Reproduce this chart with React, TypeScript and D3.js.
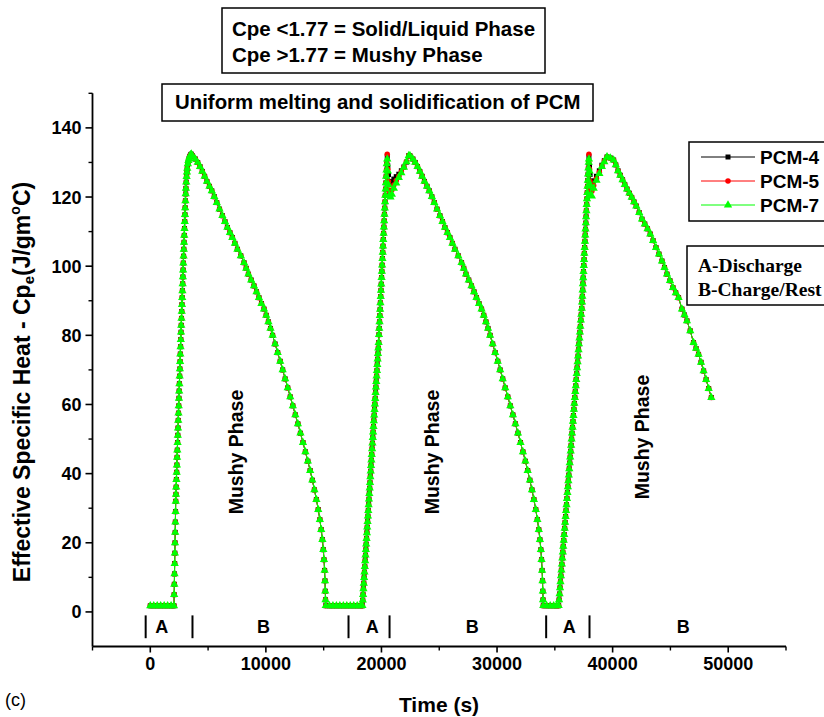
import * as d3 from "d3";

// ---- values (time in s, Cpe in J/gm°C) ----
const flatT1 = [0, 300, 600, 900, 1200, 1500, 1800, 2050];
const flatV1 = [1.77, 1.77, 1.77, 1.77, 1.77, 1.77, 1.77, 1.77];

const riseT1 = [2065, 2080, 2095, 2110, 2125, 2140, 2155, 2170, 2185, 2200, 2220, 2240, 2260, 2280, 2300, 2320, 2340, 2360, 2380, 2400, 2420, 2440, 2460, 2480, 2500, 2520, 2540, 2560, 2580, 2600, 2620, 2640, 2660, 2680, 2700, 2720, 2740, 2760, 2780, 2800, 2820, 2840, 2860, 2880, 2900, 2920, 2940, 2960, 2980, 3000, 3020, 3040, 3060, 3080, 3110, 3140, 3170, 3200, 3250, 3300, 3360, 3420, 3490, 3550];
const riseV1 = [5, 8, 11, 14, 17, 20, 23, 26, 29, 32, 34, 36.1, 38.3, 40.4, 42.5, 44.7, 46.8, 49, 51.1, 53.2, 55.4, 57.5, 59.6, 61.8, 63.9, 66, 68.2, 70.3, 72.4, 74.6, 76.7, 78.8, 80.9, 82.9, 84.9, 86.9, 88.9, 90.9, 92.9, 94.9, 96.9, 98.9, 100.9, 102.9, 104.9, 106.9, 108.9, 110.9, 112.9, 114.9, 116.9, 118.9, 120.9, 122.5, 124.3, 125.9, 127.2, 128.3, 129.6, 130.5, 131.2, 131.8, 132.2, 132.4];

const decayT1 = [3650, 3900, 4100, 4300, 4500, 4700, 4900, 5120, 5320, 5540, 5750, 5990, 6240, 6460, 6670, 6890, 7100, 7320, 7540, 7830, 8110, 8300, 8490, 8730, 8970, 9190, 9400, 9620, 9840, 10030, 10220, 10400, 10580, 10800, 11020, 11240, 11450, 11670, 11890, 12110, 12330, 12550, 12770, 12990, 13210, 13420, 13630, 13830, 14020, 14200, 14370, 14530, 14670, 14790, 14890, 14970, 15030, 15080, 15115, 15140, 15160, 15180];
const decayV1 = [131.9, 131.0, 130.0, 128.8, 127.4, 126.0, 124.5, 123.1, 121.8, 120.1, 118.4, 116.5, 114.6, 112.9, 111.2, 109.7, 108.3, 106.6, 104.9, 103.0, 101.0, 99.4, 97.7, 96.0, 94.3, 92.6, 90.9, 89.2, 87.6, 85.8, 83.9, 82.0, 80.0, 77.5, 75.0, 72.5, 70.0, 67.4, 64.8, 62.2, 59.6, 57.0, 54.4, 51.7, 49.0, 46.3, 43.6, 40.9, 38.1, 35.3, 32.5, 29.6, 26.7, 23.8, 20.9, 18.0, 15.1, 12.0, 9.0, 6.0, 3.5, 1.8];

const flatT2 = [15500, 15800, 16100, 16400, 16700, 17000, 17300, 17600, 17900, 18200];
const flatV2 = [1.77, 1.77, 1.77, 1.77, 1.77, 1.77, 1.77, 1.77, 1.77, 1.77];

const riseT2 = [18350, 18380, 18410, 18440, 18470, 18500, 18530, 18560, 18590, 18620, 18650, 18680, 18710, 18740, 18770, 18800, 18830, 18860, 18890, 18920, 18950, 18980, 19010, 19040, 19070, 19100, 19130, 19160, 19190, 19220, 19250, 19280, 19310, 19340, 19370, 19400, 19430, 19460, 19490, 19520, 19550, 19580, 19610, 19640, 19670, 19700, 19730, 19760, 19785, 19810, 19835, 19860, 19885, 19910, 19935, 19960, 19985, 20010, 20035, 20060, 20085, 20110, 20135, 20160, 20185, 20210, 20235, 20260, 20285, 20310, 20335, 20360, 20385, 20410, 20435, 20460];
const riseV2 = [1.8, 3.4, 5.0, 6.7, 8.3, 9.9, 11.5, 13.1, 14.8, 16.4, 18.0, 19.6, 21.2, 22.9, 24.5, 26.1, 27.7, 29.3, 31.0, 32.6, 34.2, 35.8, 37.4, 39.1, 40.7, 42.3, 43.9, 45.5, 47.2, 48.8, 50.4, 52.0, 53.6, 55.3, 56.9, 58.5, 60.1, 61.7, 63.4, 65.0, 66.6, 68.2, 69.8, 71.5, 73.1, 74.7, 76.3, 77.9, 80.2, 82.0, 83.9, 85.7, 87.5, 89.4, 91.2, 93.0, 94.8, 96.7, 98.5, 100.3, 102.2, 104.0, 105.8, 107.7, 109.5, 111.3, 113.1, 115.0, 116.8, 118.6, 120.5, 122.3, 124.1, 126.0, 127.8, 129.6];

const wedgeT2 = [20500, 20550, 20610, 20680, 20780, 20900, 21070, 21280, 21500, 21720, 21940, 22160, 22370];
const wedge2Pcm4 = [131.6, 129.0, 126.5, 124.5, 124.0, 124.3, 125.2, 125.9, 126.6, 127.6, 128.7, 130.1, 132.0];
const wedge2Pcm5 = [132.4, 128.0, 124.5, 121.8, 121.5, 122.0, 123.5, 124.8, 126.0, 127.3, 128.6, 130.2, 132.0];
const wedge2Pcm7 = [131.0, 127.5, 123.5, 120.5, 120.0, 120.8, 122.5, 124.0, 125.6, 127.0, 128.6, 130.2, 132.0];

const decayT2 = [22470, 22720, 22920, 23120, 23320, 23520, 23720, 23940, 24140, 24360, 24570, 24810, 25060, 25280, 25490, 25710, 25920, 26140, 26360, 26650, 26930, 27120, 27310, 27550, 27790, 28010, 28220, 28440, 28660, 28850, 29040, 29220, 29400, 29620, 29840, 30060, 30270, 30490, 30710, 30930, 31150, 31370, 31590, 31810, 32030, 32240, 32450, 32650, 32840, 33020, 33190, 33350, 33490, 33610, 33710, 33790, 33850, 33900, 33935, 33960, 33980, 34000];
const decayV2 = [131.9, 131.0, 130.0, 128.8, 127.4, 126.0, 124.5, 123.1, 121.8, 120.1, 118.4, 116.5, 114.6, 112.9, 111.2, 109.7, 108.3, 106.6, 104.9, 103.0, 101.0, 99.4, 97.7, 96.0, 94.3, 92.6, 90.9, 89.2, 87.6, 85.8, 83.9, 82.0, 80.0, 77.5, 75.0, 72.5, 70.0, 67.4, 64.8, 62.2, 59.6, 57.0, 54.4, 51.7, 49.0, 46.3, 43.6, 40.9, 38.1, 35.3, 32.5, 29.6, 26.7, 23.8, 20.9, 18.0, 15.1, 12.0, 9.0, 6.0, 3.5, 1.8];

const flatT3 = [34300, 34600, 34900, 35150];
const flatV3 = [1.77, 1.77, 1.77, 1.77];

const riseT3 = [35330, 35370, 35410, 35450, 35490, 35530, 35570, 35610, 35650, 35690, 35730, 35770, 35810, 35850, 35890, 35930, 35970, 36010, 36050, 36090, 36130, 36170, 36210, 36250, 36290, 36330, 36370, 36410, 36450, 36490, 36530, 36570, 36610, 36650, 36690, 36730, 36770, 36810, 36850, 36890, 36930, 36970, 37010, 37050, 37090, 37130, 37170, 37210, 37250, 37290, 37330, 37355, 37380, 37405, 37430, 37455, 37480, 37505, 37530, 37555, 37580, 37605, 37630, 37655, 37680, 37705, 37730, 37755, 37780, 37805, 37830, 37855, 37880, 37905, 37930];
const riseV3 = [1.8, 3.5, 5.2, 7.0, 8.7, 10.4, 12.1, 13.8, 15.6, 17.3, 19.0, 20.7, 22.4, 24.2, 25.9, 27.6, 29.3, 31.0, 32.8, 34.5, 36.2, 37.9, 39.6, 41.4, 43.1, 44.8, 46.5, 48.2, 50.0, 51.7, 53.4, 55.1, 56.8, 58.6, 60.3, 62.0, 63.7, 65.4, 67.2, 68.9, 70.6, 72.3, 74.0, 75.8, 77.5, 79.2, 80.9, 82.6, 84.4, 86.1, 87.8, 89.6, 91.3, 93.1, 94.9, 96.6, 98.4, 100.2, 101.9, 103.7, 105.4, 107.2, 109.0, 110.7, 112.5, 114.3, 116.0, 117.8, 119.5, 121.3, 123.1, 124.8, 126.6, 128.4, 130.0];

const wedgeT3 = [37950, 38000, 38050, 38100, 38200, 38358, 38600, 38850, 39070, 39283, 39516];
const wedge3Pcm4 = [131.6, 129.0, 126.5, 124.5, 124.2, 124.7, 126.0, 127.6, 129.2, 130.5, 131.6];
const wedge3Pcm5 = [132.4, 128.0, 124.5, 122.0, 121.7, 123.3, 125.3, 127.2, 129.0, 130.4, 131.6];
const wedge3Pcm7 = [131.0, 127.5, 123.5, 120.5, 120.3, 122.5, 124.8, 126.8, 128.8, 130.2, 131.6];

const decayT3 = [39800, 40086, 40270, 40467, 40660, 40860, 41050, 41245, 41450, 41650, 41850, 42049, 42300, 42541, 42780, 43020, 43258, 43500, 43751, 44010, 44270, 44490, 44702, 44960, 45220, 45460, 45704, 45998, 46215, 46430, 46715, 47000, 47220, 47433, 47650, 47870, 48090, 48310, 48540];
const decayV3 = [131.3, 130.7, 129.3, 127.6, 126.3, 125.0, 123.6, 122.3, 121.1, 119.9, 118.6, 117.4, 115.5, 113.6, 112.2, 110.8, 109.3, 107.4, 105.4, 103.5, 101.5, 99.6, 97.7, 95.8, 93.8, 92.3, 90.9, 87.6, 85.9, 84.2, 81.3, 77.9, 76.2, 74.5, 72.2, 69.7, 67.2, 64.6, 62.0];

const timeS = [...flatT1, ...riseT1, ...decayT1, ...flatT2, ...riseT2, ...wedgeT2, ...decayT2, ...flatT3, ...riseT3, ...wedgeT3, ...decayT3];
const pcm4 = [...flatV1, ...riseV1, ...decayV1, ...flatV2, ...riseV2, ...wedge2Pcm4, ...decayV2, ...flatV3, ...riseV3, ...wedge3Pcm4, ...decayV3];
const pcm5 = [...flatV1, ...riseV1, ...decayV1, ...flatV2, ...riseV2, ...wedge2Pcm5, ...decayV2, ...flatV3, ...riseV3, ...wedge3Pcm5, ...decayV3];
const pcm7 = [...flatV1, ...riseV1, ...decayV1, ...flatV2, ...riseV2, ...wedge2Pcm7, ...decayV2, ...flatV3, ...riseV3, ...wedge3Pcm7, ...decayV3];

const seriesNames = ["PCM-4", "PCM-5", "PCM-7"];
const xTicks = [0, 10000, 20000, 30000, 40000, 50000];
const xMinor = [-5000, 5000, 15000, 25000, 35000, 45000, 55000];
const yTicks = [0, 20, 40, 60, 80, 100, 120, 140];
const yMinor = [10, 30, 50, 70, 90, 110, 130, 150];
const phaseBars = [-400, 3650, 17150, 20700, 34250, 38000];
const phaseNames = ["A", "B", "A", "B", "A", "B"];
const phaseMid = [1000, 9800, 19200, 27850, 36250, 46100];
const noteLines = ["Cpe <1.77 = Solid/Liquid Phase", "Cpe >1.77 = Mushy Phase"];
const titleText = "Uniform melting and solidification of PCM";
const keyLines = ["A-Discharge", "B-Charge/Rest"];

// ---- layout ----
const W = 824;
const H = 717;
const sans = "'Liberation Sans', Arial, sans-serif";
const serif = "'Liberation Serif', 'Times New Roman', serif";
const colors = ["#000000", "#ff0000", "#00ff00"];
const symbols = [d3.symbolSquare, d3.symbolCircle, d3.symbolTriangle];
const symSizes = [25, 24, 30];

const x = d3.scaleLinear().domain([-5000, 55000]).range([92.5, 786]);
const y = d3.scaleLinear().domain([-10, 150]).range([646.5, 93.3]);

export default function App() {
  const series = [pcm4, pcm5, pcm7];
  const line = d3
    .line<number>()
    .x((_, i) => x(timeS[i]))
    .y((d) => y(d));

  const x0 = x.range()[0];
  const y0 = y.range()[0];
  // centres of the rotated "Mushy Phase" notes
  const mushy = [
    { px: 236, py: 452 },
    { px: 432, py: 452 },
    { px: 642, py: 437 },
  ];

  return (
    <svg
      width={W}
      height={H}
      style={{ position: "absolute", left: 0, top: 0, background: "#fff" }}
      fontFamily={sans}
    >
      <rect width={W} height={H} fill="#fff" />

      {/* series: black, red, then green on top */}
      {series.map((vals, s) => {
        const sym = d3.symbol().type(symbols[s]).size(symSizes[s])()!;
        return (
          <g key={seriesNames[s]}>
            <path d={line(vals)!} fill="none" stroke={colors[s]} strokeWidth={1} />
            {vals.map((v, i) => (
              <path
                key={i}
                d={sym}
                transform={`translate(${x(timeS[i])},${y(v)})`}
                fill={colors[s]}
              />
            ))}
          </g>
        );
      })}

      {/* axes */}
      <line x1={x0} x2={x0} y1={y.range()[1]} y2={y0} stroke="#000" strokeWidth={1.8} />
      <line x1={x0} x2={x.range()[1]} y1={y0} y2={y0} stroke="#000" strokeWidth={1.8} />
      {yTicks.map((t) => (
        <g key={"yt" + t}>
          <line x1={x0 - 7} x2={x0} y1={y(t)} y2={y(t)} stroke="#000" strokeWidth={1.6} />
          <text x={x0 - 11} y={y(t) + 6.5} textAnchor="end" fontSize={18} fontWeight="bold">
            {t}
          </text>
        </g>
      ))}
      {yMinor.map((t) => (
        <line key={"ym" + t} x1={x0 - 4} x2={x0} y1={y(t)} y2={y(t)} stroke="#000" strokeWidth={1.4} />
      ))}
      {xTicks.map((t) => (
        <g key={"xt" + t}>
          <line x1={x(t)} x2={x(t)} y1={y0} y2={y0 + 6} stroke="#000" strokeWidth={1.6} />
          <text x={x(t)} y={y0 + 23} textAnchor="middle" fontSize={18} fontWeight="bold">
            {t}
          </text>
        </g>
      ))}
      {xMinor.map((t) => (
        <line key={"xm" + t} x1={x(t)} x2={x(t)} y1={y0} y2={y0 + 4} stroke="#000" strokeWidth={1.4} />
      ))}

      {/* axis titles */}
      <text x={439} y={712} textAnchor="middle" fontSize={21} fontWeight="bold">
        Time (s)
      </text>
      <text transform="translate(30,382) rotate(-90)" textAnchor="middle" fontSize={23} fontWeight="bold">
        Effective Specific Heat - Cp
        <tspan dy={4} fontSize={15}>e</tspan>
        <tspan dy={-4}>(J/gm</tspan>
        <tspan dy={-10} fontSize={14}>o</tspan>
        <tspan dy={10}>C)</tspan>
      </text>
      <text x={5} y={706} fontSize={18}>
        (c)
      </text>

      {/* discharge / charge markers */}
      {phaseBars.map((t, i) => (
        <line key={"pb" + i} x1={x(t)} x2={x(t)} y1={y(-1)} y2={y(-7.6)} stroke="#000" strokeWidth={2} />
      ))}
      {phaseNames.map((n, i) => (
        <text key={"pn" + i} x={x(phaseMid[i])} y={y(-4.2) + 6.5} textAnchor="middle" fontSize={18} fontWeight="bold">
          {n}
        </text>
      ))}

      {/* Mushy Phase labels */}
      {mushy.map((m, i) => (
        <text
          key={"mp" + i}
          transform={`translate(${m.px + 7},${m.py}) rotate(-90)`}
          textAnchor="middle"
          fontSize={19.5}
          fontWeight="bold"
        >
          Mushy Phase
        </text>
      ))}

      {/* note box */}
      <rect x={222} y={8} width={323} height={65} fill="#fff" stroke="#000" strokeWidth={1.5} />
      {noteLines.map((l, i) => (
        <text key={"nl" + i} x={232} y={36 + i * 25.5} fontSize={20.5} fontWeight="bold">
          {l}
        </text>
      ))}

      {/* title box */}
      <rect x={162} y={84} width={431} height={37} fill="#fff" stroke="#000" strokeWidth={1.5} />
      <text x={175} y={109} fontSize={20.4} fontWeight="bold">
        {titleText}
      </text>

      {/* legend */}
      <rect x={689} y={142} width={140} height={79} fill="#fff" stroke="#000" strokeWidth={1.5} />
      {seriesNames.map((n, i) => {
        const ry = 157 + i * 24;
        const sym = d3.symbol().type(symbols[i]).size(symSizes[i])()!;
        return (
          <g key={"lg" + n}>
            <line x1={701} x2={755} y1={ry} y2={ry} stroke={colors[i]} strokeWidth={1} />
            <path d={sym} transform={`translate(728,${ry})`} fill={colors[i]} />
            <text x={760} y={ry + 7} fontSize={19} fontWeight="bold">
              {n}
            </text>
          </g>
        );
      })}

      {/* phase key */}
      <rect x={687} y={246} width={140} height={59} fill="#fff" stroke="#000" strokeWidth={1.5} />
      {keyLines.map((l, i) => (
        <text key={"kl" + i} x={698} y={272 + i * 23.5} fontSize={19.5} fontWeight="bold" fontFamily={serif}>
          {l}
        </text>
      ))}
    </svg>
  );
}
